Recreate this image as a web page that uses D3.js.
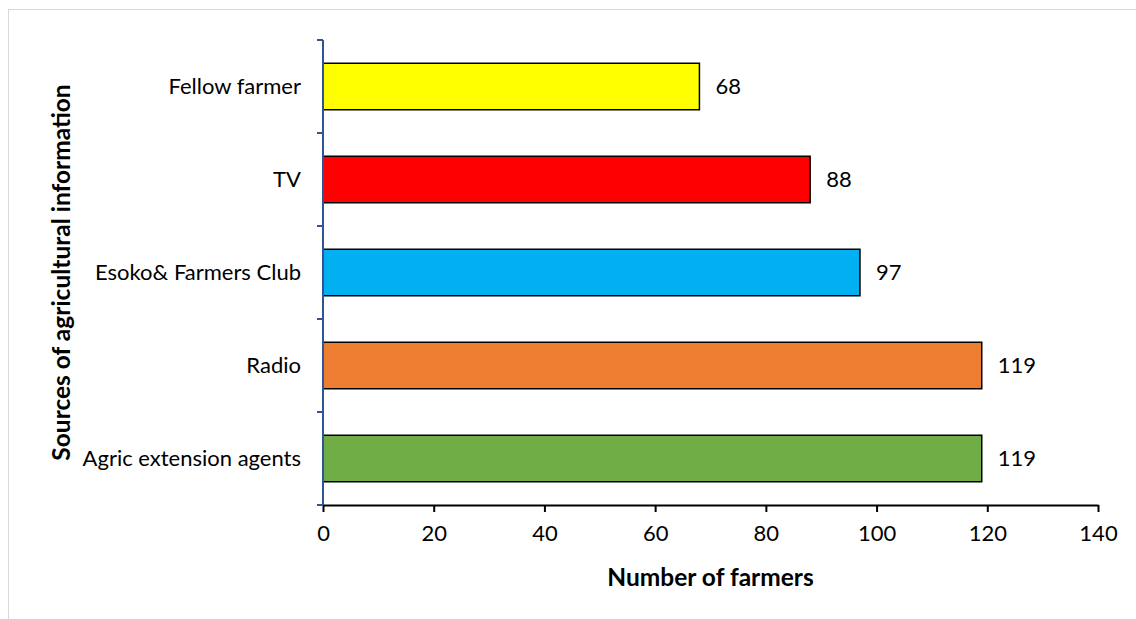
<!DOCTYPE html>
<html>
<head>
<meta charset="utf-8">
<script src="https://cdn.jsdelivr.net/npm/d3@7"></script>
<style>
  html, body { margin: 0; padding: 0; background: #fff; }
  svg { display: block; font-family: Lato, "Open Sans", sans-serif; }
</style>
</head>
<body>
<svg id="chart" width="1136" height="619"></svg>
<script>
// Sources of agricultural information, number of farmers per source
const categories = ["Fellow farmer", "TV", "Esoko& Farmers Club", "Radio", "Agric extension agents"];
const farmers = [68, 88, 97, 119, 119];
const barColors = ["#FFFF00", "#FF0000", "#00B0F0", "#ED7D31", "#70AD47"];
const xTicks = [0, 20, 40, 60, 80, 100, 120, 140];

const labelSize = 22;
const titleSize = 24.5;

const svg = d3.select("#chart");

// outer frame
svg.append("rect")
  .attr("x", 8.5).attr("y", 9.5)
  .attr("width", 1140).attr("height", 620)
  .attr("fill", "none").attr("stroke", "#d9d9d9").attr("stroke-width", 1);

const plotLeft = 323, plotRight = 1098, plotTop = 40, plotBottom = 505;

const x = d3.scaleLinear().domain([0, 140]).range([plotLeft, plotRight]);
const y = d3.scaleBand().domain(categories).range([plotTop, plotBottom])
  .paddingInner(0.5).paddingOuter(0.25);

// bars
svg.append("g").selectAll("rect")
  .data(categories)
  .join("rect")
  .attr("x", x(0))
  .attr("y", d => y(d))
  .attr("width", (d, i) => x(farmers[i]) - x(0))
  .attr("height", y.bandwidth())
  .attr("fill", (d, i) => barColors[i])
  .attr("stroke", "#000").attr("stroke-width", 1.5);

// value labels
svg.append("g").selectAll("text")
  .data(categories)
  .join("text")
  .attr("x", (d, i) => x(farmers[i]) + 16)
  .attr("y", d => y(d) + y.bandwidth() / 2)
  .attr("dy", "0.35em")
  .attr("font-size", labelSize)
  .attr("fill", "#000")
  .text((d, i) => farmers[i]);

// x axis
const xAxis = svg.append("g")
  .attr("transform", `translate(0,${plotBottom})`)
  .call(d3.axisBottom(x).tickValues(xTicks).tickSize(7).tickSizeOuter(0).tickPadding(13));
xAxis.select(".domain").attr("stroke", "#000").attr("stroke-width", 2);
xAxis.selectAll(".tick line").attr("stroke", "#000").attr("stroke-width", 2);
xAxis.selectAll(".tick text").attr("font-size", labelSize).attr("fill", "#000")
  .attr("font-family", "Lato, 'Open Sans', sans-serif");

// y axis: boundary ticks between categories
const boundaries = d3.range(categories.length + 1)
  .map(i => plotTop + i * (plotBottom - plotTop) / categories.length);
svg.append("line")
  .attr("x1", plotLeft).attr("x2", plotLeft).attr("y1", plotTop).attr("y2", plotBottom)
  .attr("stroke", "#2F5597").attr("stroke-width", 2);
svg.append("g").selectAll("line")
  .data(boundaries)
  .join("line")
  .attr("x1", plotLeft - 6).attr("x2", plotLeft)
  .attr("y1", d => d).attr("y2", d => d)
  .attr("stroke", "#2F5597").attr("stroke-width", 2);

// category labels
svg.append("g").selectAll("text")
  .data(categories)
  .join("text")
  .attr("x", plotLeft - 22)
  .attr("y", d => y(d) + y.bandwidth() / 2)
  .attr("dy", "0.35em")
  .attr("text-anchor", "end")
  .attr("font-size", labelSize)
  .attr("fill", "#000")
  .text(d => d);

// axis titles
svg.append("text")
  .attr("x", (plotLeft + plotRight) / 2)
  .attr("y", 586)
  .attr("text-anchor", "middle")
  .attr("font-size", titleSize).attr("font-weight", "bold")
  .text("Number of farmers");

svg.append("text")
  .attr("transform", `translate(70,${(plotTop + plotBottom) / 2}) rotate(-90)`)
  .attr("text-anchor", "middle")
  .attr("font-size", titleSize).attr("font-weight", "bold")
  .text("Sources of agricultural information");
</script>
</body>
</html>
